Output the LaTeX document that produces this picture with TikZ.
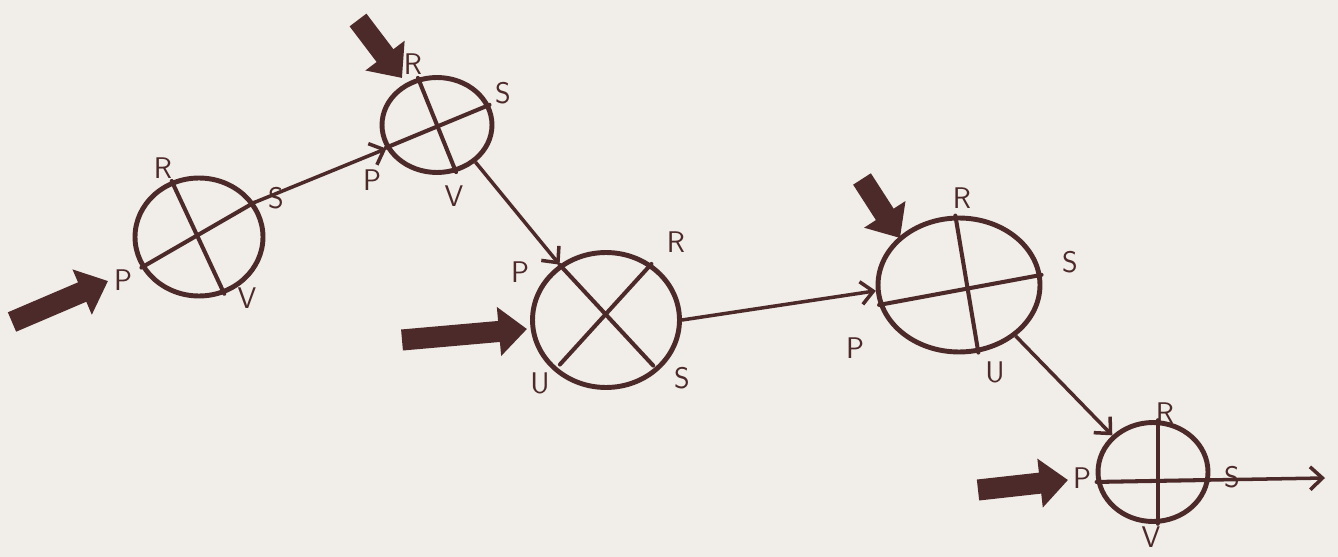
\documentclass[tikz,border=0pt]{standalone}
\usetikzlibrary{arrows.meta, shapes.geometric, positioning, calc}
\definecolor{ink}{RGB}{76,42,42}
\definecolor{paper}{RGB}{241,237,232}

\begin{document}
\begin{tikzpicture}[x=0.02cm,y=-0.02cm,
  junc/.style={ellipse, draw=ink, line width=2.8pt, inner sep=0pt},
  lbl/.style={text=ink, font=\sffamily\fontsize{17}{17}\selectfont, inner sep=1pt},
  spoke/.style={draw=ink, line width=2.3pt, line cap=round},
  link/.style={draw=ink, line width=2pt, -{Straight Barb[length=7pt,width=13pt]}},
  feed/.style={draw=ink, line width=12pt, -{Triangle[length=16pt,width=27pt]}}]
  % paper
  \fill[paper] (0,0) rectangle (1338,557);
  \useasboundingbox (0,0) rectangle (1338,557);
  % junctions
  \node[junc, minimum width=2.56cm, minimum height=2.36cm] (c1) at (199,237) {};
  \node[junc, minimum width=2.2cm, minimum height=1.9cm] (c2) at (437,125) {};
  \node[junc, minimum width=2.94cm, minimum height=2.7cm] (c3) at (606,320) {};
  \node[junc, minimum width=3.24cm, minimum height=2.68cm] (c4) at (959,285) {};
  \node[junc, minimum width=2.2cm, minimum height=1.98cm] (c5) at (1153,472) {};
  % spokes
  \draw[spoke] (c1.208) -- (c1.32);
  \draw[spoke] (c1.116) -- (c1.294);
  \draw[spoke] (c2.204) -- (c2.21);
  \draw[spoke] (c2.112) -- (c2.292);
  \draw[spoke] (c3.130) -- ($(c3.center)!0.9!(c3.316)$);
  \draw[spoke] (c3.51) -- ($(c3.center)!0.88!(c3.224)$);
  \draw[spoke] (c4.194) -- (c4.7);
  \draw[spoke] (c4.93) -- (c4.286);
  \draw[spoke] (c5.190) -- (c5.352);
  \draw[spoke] (c5.85) -- (c5.275);
  % labels
  \node[lbl] (r1) at (163,168) {R};
  \node[lbl] (s1) at (276,198) {S};
  \node[lbl] (p1) at (123,280) {P};
  \node[lbl] (v1) at (247,298) {V};
  \node[lbl] (r2) at (413,64) {R};
  \node[lbl] (s2) at (503,93) {S};
  \node[lbl] (p2) at (372,180) {P};
  \node[lbl] (v2) at (454,196) {V};
  \node[lbl] (p3) at (520,272) {P};
  \node[lbl] (r3) at (676,242) {R};
  \node[lbl] (u3) at (540,383) {U};
  \node[lbl] (s3) at (682,378) {S};
  \node[lbl] (r4) at (962,198) {R};
  \node[lbl] (s4) at (1070,262) {S};
  \node[lbl] (p4) at (855,348) {P};
  \node[lbl] (u4) at (995,372) {U};
  \node[lbl] (r5) at (1165,413) {R};
  \node[lbl] (s5) at (1232,477) {S};
  \node[lbl] (p5) at (1082,478) {P};
  \node[lbl] (v5) at (1151,537) {V};
  % links
  \draw[link] (c1.32) -- (c2.205);
  \draw[link] (c2.316) -- (c3.130);
  \draw[link] (c3.0) -- (c4.184);
  \draw[link] (c4.318) -- (c5.138);
  \coordinate (out) at (1325,478);
  \draw[link] (c5.352) -- (out);
  % feeds
  \coordinate (f1a) at (12,322);  \coordinate (f1b) at (108,281);
  \coordinate (f2a) at (358,20);  \coordinate (f2b) at (402,78);
  \coordinate (f3a) at (402,340); \coordinate (f3b) at (527,329);
  \coordinate (f4a) at (862,179); \coordinate (f4b) at (900,238);
  \coordinate (f5a) at (978,490); \coordinate (f5b) at (1068,480);
  \foreach \i in {1,...,5}
    \draw[feed] (f\i a) -- (f\i b);
\end{tikzpicture}
\end{document}
